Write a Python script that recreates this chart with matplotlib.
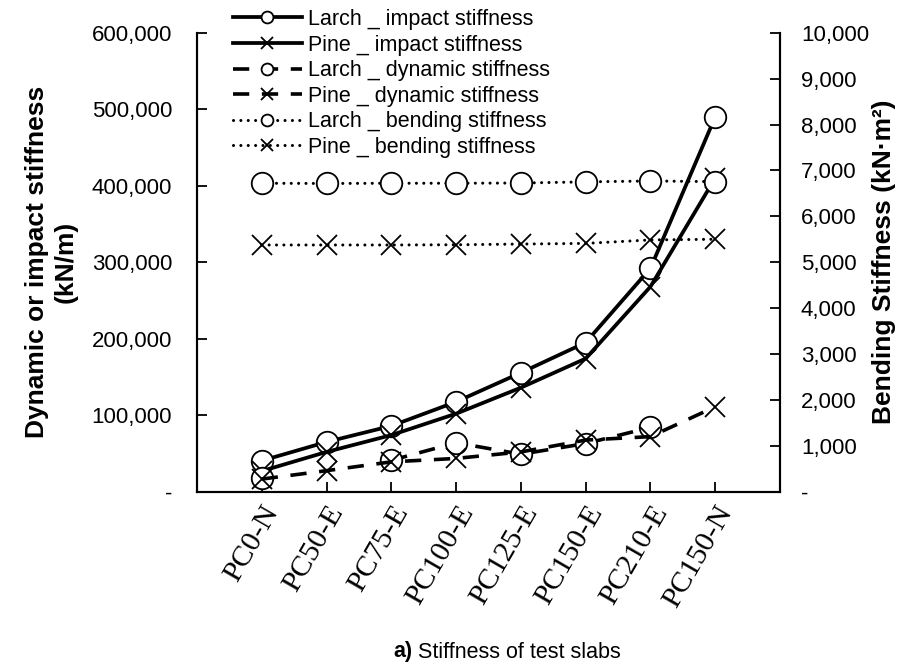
import matplotlib
matplotlib.use('Agg')
import matplotlib.pyplot as plt
import numpy as np

# data
categories = ['PC0-N', 'PC50-E', 'PC75-E', 'PC100-E', 'PC125-E', 'PC150-E', 'PC210-E', 'PC150-N']
larch_impact = [40500, 65000, 86000, 117500, 155500, 195000, 292000, 490000]
pine_impact = [27000, 52000, 74000, 102000, 136000, 174000, 268000, 410000]
larch_dynamic = [18000, np.nan, 41000, 64000, 49000, 63000, 84000, np.nan]
pine_dynamic = [16500, 27500, 39000, 43500, 52000, 67500, 72000, 111000]
larch_bending = [6720, 6715, 6720, 6720, 6725, 6750, 6770, 6755]
pine_bending = [5375, 5375, 5375, 5380, 5395, 5410, 5485, 5500]

plt.rcParams['font.family'] = 'Liberation Sans'

fig = plt.figure(figsize=(9.24, 6.66), dpi=100)
ax = fig.add_axes([197/924, 1-491.7/666, (780-197)/924, (491.7-32.7)/666])
ax2 = ax.twinx()

x = np.arange(len(categories))
circ = dict(marker='o', markersize=15.5, markerfacecolor='white', markeredgecolor='black', markeredgewidth=1.3)
cross = dict(marker='x', markersize=15, markeredgecolor='black', markeredgewidth=1.3)
solid = dict(color='black', lw=2.7, linestyle='-')
dashed = dict(color='black', lw=2.6, linestyle=(0, (4.5, 3.5)))
dotted = dict(color='black', lw=2.2, linestyle=(0, (0.01, 2.4)), dash_capstyle='round')

h1, = ax.plot(x, larch_impact, **solid, **circ, label='Larch _ impact stiffness')
h2, = ax.plot(x, pine_impact, **solid, **cross, label='Pine _ impact stiffness')
h3, = ax.plot(x, larch_dynamic, **dashed, **circ, label='Larch _ dynamic stiffness')
h4, = ax.plot(x, pine_dynamic, **dashed, **cross, label='Pine _ dynamic stiffness')
h5, = ax2.plot(x, larch_bending, **dotted, **circ, label='Larch _ bending stiffness')
h6, = ax2.plot(x, pine_bending, **dotted, **cross, label='Pine _ bending stiffness')

def fmt(v, pos):
    return '-' if abs(v) < 1e-9 else '{:,.0f}'.format(v)

ax.set_xlim(-1, 8)
ax.set_ylim(0, 600000)
ax.set_yticks(np.arange(0, 600001, 100000))
ax.yaxis.set_major_formatter(plt.FuncFormatter(fmt))
ax2.set_ylim(0, 10000)
ax2.set_yticks(np.arange(0, 10001, 1000))
ax2.yaxis.set_major_formatter(plt.FuncFormatter(fmt))

ax.set_xticks(x)
ax.set_xticklabels(categories, rotation=60, ha='right', va='top', rotation_mode='anchor',
                   fontfamily='Liberation Serif', fontsize=21.5)
ax.tick_params(axis='x', direction='in', length=7, width=1.3, pad=7)
ax.tick_params(axis='y', direction='in', length=7, width=1.3, pad=18, labelsize=16)
ax2.tick_params(axis='y', direction='in', length=7, width=1.3, pad=15, labelsize=16)

for a in (ax, ax2):
    a.spines['top'].set_visible(False)
    for s in ('left', 'right', 'bottom'):
        a.spines[s].set_linewidth(1.5)

ax.set_ylabel('Dynamic or impact stiffness\n(kN/m)', fontsize=19, fontweight='bold', labelpad=10, linespacing=1.25)
ax2.set_ylabel('Bending Stiffness (kN\u00b7m\u00b2)', fontsize=19, fontweight='bold', labelpad=2, rotation=90)

fig.legend(handles=[h1, h2, h3, h4, h5, h6], loc='upper left', bbox_to_anchor=(233/924, 1-9/666),
           frameon=False, fontsize=15.5, markerscale=0.55, handlelength=3.2, handletextpad=0.3,
           labelspacing=0.21, borderpad=0, borderaxespad=0)

t1 = fig.text(393/924, 1-652/666, 'a)', fontsize=15.5, fontweight='bold', ha='left', va='center')
ax.annotate(' Stiffness of test slabs', xy=(1, 0.5), xycoords=t1, fontsize=15.5, ha='left', va='center',
            annotation_clip=False)

fig.savefig('out.png', dpi=100)
